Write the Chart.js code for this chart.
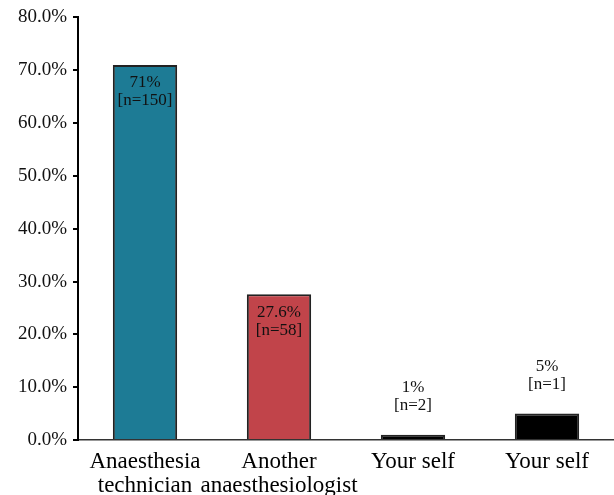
<!DOCTYPE html>
<html>
<head>
<meta charset="utf-8">
<script src="https://cdn.jsdelivr.net/npm/chart.js@4/dist/chart.umd.min.js"></script>
<style>
  html, body { margin: 0; padding: 0; background: #fff; }
  #wrap { width: 614px; height: 495px; position: relative; }
</style>
</head>
<body>
<div id="wrap"><canvas id="c"></canvas></div>
<script>
// Who assisted the anaesthesiologist
const categories = [["Anaesthesia", "technician"], ["Another", "anaesthesiologist"], "Your self", "Your self"];
const shares = [71, 27.6, 1, 5];          // percent of respondents
const counts = [150, 58, 2, 1];           // respondents per answer
const yTicks = [0, 10, 20, 30, 40, 50, 60, 70, 80];

const fills = ['#1d7b95', '#c1444a', '#000000', '#000000'];
const SERIF = '"Liberation Serif", "Times New Roman", serif';

// Percent and count written on or above each bar
const barLabels = {
  id: 'barLabels',
  afterDatasetsDraw(chart) {
    const ctx = chart.ctx;
    const meta = chart.getDatasetMeta(0);
    ctx.save();
    ctx.font = '17px ' + SERIF;
    ctx.fillStyle = '#111';
    ctx.textAlign = 'center';
    ctx.textBaseline = 'middle';
    meta.data.forEach((bar, i) => {
      const top = bar.y;
      const inside = shares[i] > 10;
      const y1 = inside ? top + 18 : top - 47;
      const y2 = inside ? top + 36 : top - 29;
      ctx.fillText(shares[i] + '%', bar.x, y1);
      ctx.fillText('[n=' + counts[i] + ']', bar.x, y2);
    });
    ctx.restore();
  }
};

new Chart(document.getElementById('c'), {
  type: 'bar',
  data: {
    labels: categories,
    datasets: [{
      data: shares,
      backgroundColor: fills,
      borderColor: '#222',
      borderWidth: 2,
      barPercentage: 0.48,
      categoryPercentage: 1
    }]
  },
  options: {
    responsive: true,
    maintainAspectRatio: false,
    animation: false,
    layout: { padding: { top: 6, right: 0, left: 0, bottom: 0 } },
    plugins: { legend: { display: false }, tooltip: { enabled: false } },
    scales: {
      x: {
        grid: { display: false },
        border: { display: true, color: '#333', width: 1.5 },
        afterFit(axis) { axis.height = 55; },
        ticks: {
          color: '#000',
          font: { family: SERIF, size: 23, lineHeight: 1.04 },
          padding: 2,
          maxRotation: 0,
          autoSkip: false
        }
      },
      y: {
        min: 0,
        max: 80,
        afterBuildTicks(axis) { axis.ticks = yTicks.map(v => ({ value: v })); },
        afterFit(axis) { axis.width = 78; },
        grid: { drawOnChartArea: false, drawTicks: true, tickLength: 5, color: '#000', lineWidth: 2 },
        border: { display: true, color: '#000', width: 2 },
        ticks: {
          color: '#111',
          font: { family: SERIF, size: 19 },
          padding: 6,
          callback: v => v.toFixed(1) + '%'
        }
      }
    }
  },
  plugins: [barLabels]
});
</script>
</body>
</html>
